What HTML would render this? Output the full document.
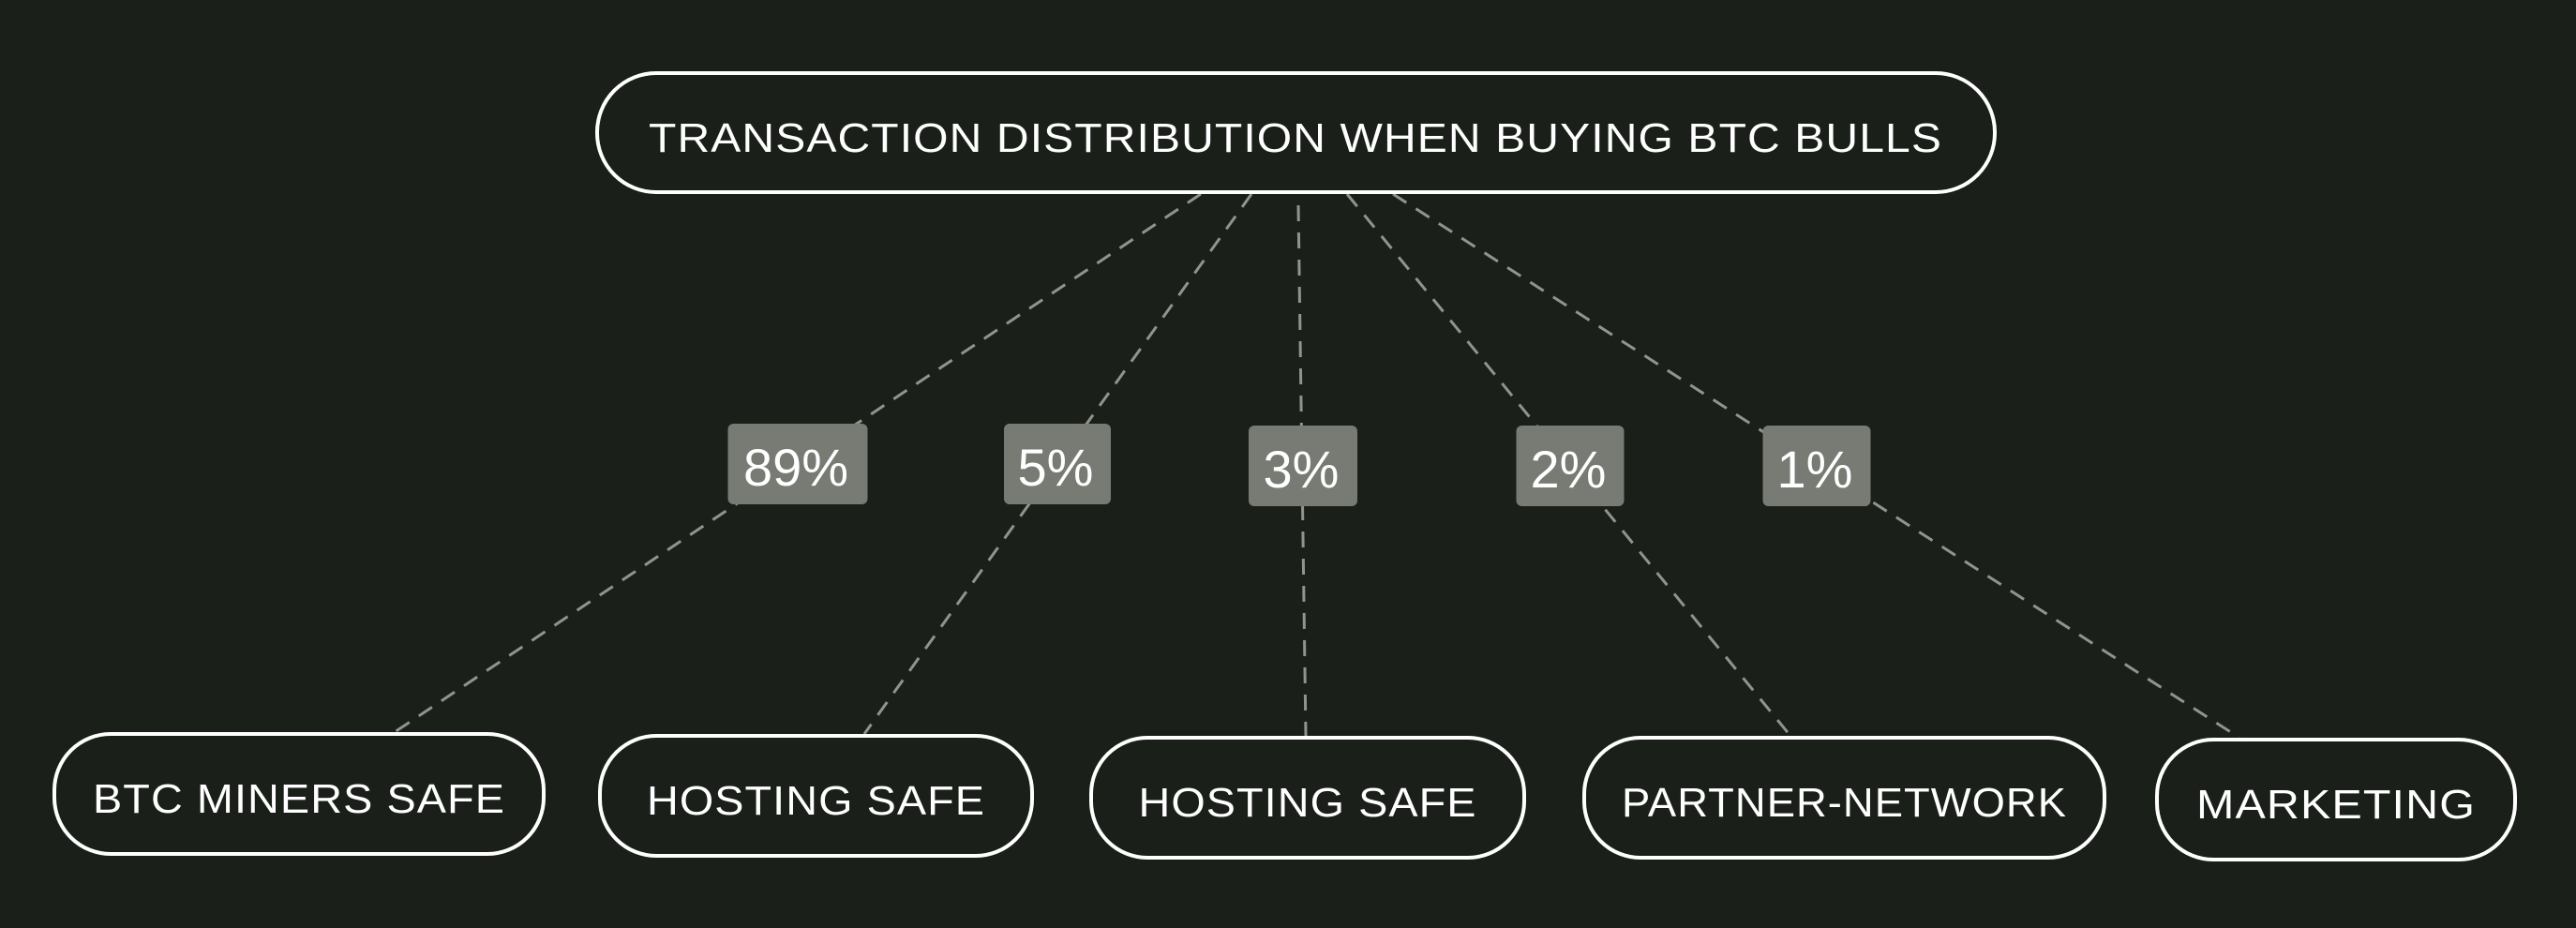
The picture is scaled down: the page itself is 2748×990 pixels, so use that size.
<!DOCTYPE html>
<html><head><meta charset="utf-8"><style>
html,body{margin:0;padding:0;background:#1a2019;}
svg{display:block}
.box{fill:#1a2019;stroke:#fff;stroke-width:4}
.bt{fill:#fff;font-family:"Liberation Sans Narrow","Liberation Sans",sans-serif;font-size:44px;letter-spacing:1px}
.lbl{fill:#fff;font-family:"Liberation Sans",sans-serif;font-size:56px}
</style></head><body>
<svg id="chart" width="2748" height="990" viewBox="0 0 2748 990" xmlns="http://www.w3.org/2000/svg">
<rect width="2748" height="990" fill="#1a2019"/>
<g id="lines"></g>
<g>
<rect class="box" x="637" y="78" width="1491" height="127" rx="63"/>
<text class="bt" x="1382" y="162" text-anchor="middle" textLength="1380" lengthAdjust="spacingAndGlyphs">TRANSACTION DISTRIBUTION WHEN BUYING BTC BULLS</text>
</g>
<g id="nodes"></g>
<g id="labels"></g>
</svg>
<script>
const categories = ["BTC MINERS SAFE", "HOSTING SAFE", "HOSTING SAFE", "PARTNER-NETWORK", "MARKETING"];
const values = [89, 5, 3, 2, 1];
const NS = "http://www.w3.org/2000/svg";
// layout (not data)
const boxX = [58, 640, 1164, 1690, 2301];
const boxW = [522, 461, 462, 555, 382];
const boxY = [783, 785, 787, 787, 789];
const textW = [440, 361, 361, 475, 298];
const startX = [1281, 1335, 1385, 1437, 1486];
const startY = [207, 207, 219, 207, 207];
const endX = [421, 922, 1393, 1910, 2389];
const labelCX = [851, 1128, 1390, 1675, 1938];
const labelCY = [495, 495, 497, 497, 497];
const labelW = [149, 114, 116, 115, 115];
const lines = document.getElementById('lines');
const nodes = document.getElementById('nodes');
const labels = document.getElementById('labels');
categories.forEach((c, i) => {
  const l = document.createElementNS(NS, 'line');
  l.setAttribute('x1', startX[i]); l.setAttribute('y1', startY[i]);
  l.setAttribute('x2', endX[i]); l.setAttribute('y2', boxY[i] - 2);
  l.setAttribute('stroke', '#90948e'); l.setAttribute('stroke-width', '3');
  l.setAttribute('stroke-dasharray', '17 12');
  
  
  lines.appendChild(l);

  const r = document.createElementNS(NS, 'rect');
  r.setAttribute('class', 'box');
  r.setAttribute('x', boxX[i]); r.setAttribute('y', boxY[i]);
  r.setAttribute('width', boxW[i]); r.setAttribute('height', 128);
  r.setAttribute('rx', 60);
  
  
  nodes.appendChild(r);
  const t = document.createElementNS(NS, 'text');
  t.setAttribute('class', 'bt');
  t.setAttribute('x', boxX[i] + boxW[i] / 2); t.setAttribute('y', boxY[i] + 84);
  t.setAttribute('text-anchor', 'middle');
  t.setAttribute('textLength', textW[i]);
  t.setAttribute('lengthAdjust', 'spacingAndGlyphs');
  t.textContent = c;
  
  
  nodes.appendChild(t);

  const lr = document.createElementNS(NS, 'rect');
  lr.setAttribute('x', labelCX[i] - labelW[i] / 2); lr.setAttribute('y', labelCY[i] - 43);
  lr.setAttribute('width', labelW[i]); lr.setAttribute('height', 86);
  lr.setAttribute('rx', 6); lr.setAttribute('fill', '#777b74');
  
  
  labels.appendChild(lr);
  const lt = document.createElementNS(NS, 'text');
  lt.setAttribute('class', 'lbl');
  lt.setAttribute('x', labelCX[i] - 2); lt.setAttribute('y', labelCY[i] + 23);
  lt.setAttribute('text-anchor', 'middle');
  lt.textContent = values[i] + '%';
  
  
  labels.appendChild(lt);
});
</script>
</body></html>
